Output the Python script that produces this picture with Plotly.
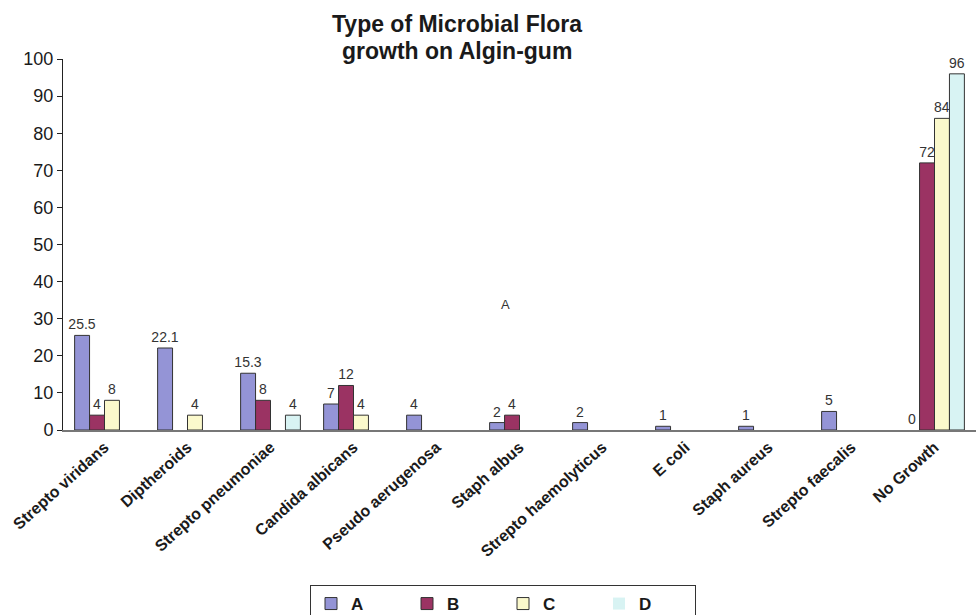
import plotly.graph_objects as go

categories = ["Strepto viridans", "Diptheroids", "Strepto pneumoniae", "Candida albicans",
              "Pseudo aerugenosa", "Staph albus", "Strepto haemolyticus", "E coli",
              "Staph aureus", "Strepto faecalis", "No Growth"]
series_names = ["A", "B", "C", "D"]
A = [25.5, 22.1, 15.3, 7, 4, 2, 2, 1, 1, 5, 0]
B = [4, 0, 8, 12, 0, 4, 0, 0, 0, 0, 72]
C = [8, 4, 0, 4, 0, 0, 0, 0, 0, 0, 84]
D = [0, 0, 4, 0, 0, 0, 0, 0, 0, 0, 96]
A_labels = ["25.5", "22.1", "15.3", "7", "4", "2", "2", "1", "1", "5", "0"]
B_labels = ["4", "", "8", "12", "", "4", "", "", "", "", "72"]
C_labels = ["8", "4", "", "4", "", "", "", "", "", "", "84"]
D_labels = ["", "", "4", "", "", "", "", "", "", "", "96"]
y_ticks = [0, 10, 20, 30, 40, 50, 60, 70, 80, 90, 100]
title_lines = ["Type of Microbial Flora", "growth on Algin-gum"]

FONT = "Liberation Sans, Arial, sans-serif"
colors = ["#9494d6", "#9b3363", "#fbf9cc", "#d8f3f3"]
values = [A, B, C, D]
labels = [A_labels, B_labels, C_labels, D_labels]

# plot area geometry (pixels)
L, R, T, Bm = 63, 3, 59, 185
W, H = 979, 615
ph = H - T - Bm
pw = W - L - R

fig = go.Figure()
for name, vals, labs, col in zip(series_names, values, labels, colors):
    fig.add_trace(go.Bar(
        name="<b>%s</b>" % name, x=categories, y=vals, text=labs,
        textposition="outside", constraintext="none", cliponaxis=False,
        textfont=dict(family=FONT, size=14, color="#333333"),
        marker=dict(color=col,
                    line=dict(color="#333333", width=[1 if v > 0 else 0 for v in vals])),
    ))

fig.add_annotation(x=(505 - L) / pw, xref="paper", y=33.7, yref="y", text="A",
                   showarrow=False, font=dict(family=FONT, size=13, color="#333333"))

for line, ypx in zip(title_lines, [24, 51]):
    fig.add_annotation(x=(457 - L) / pw, xref="paper", xanchor="center",
                       y=(H - Bm - ypx) / ph, yref="paper", yanchor="middle",
                       text="<b>%s</b>" % line, showarrow=False,
                       font=dict(family=FONT, size=23, color="#1a1a1a"))

fig.update_layout(
    width=W, height=H,
    margin=dict(l=L, r=R, t=T, b=Bm),
    paper_bgcolor="white", plot_bgcolor="white",
    barmode="group", bargap=0.28, bargroupgap=0,
    font=dict(family=FONT, color="#1a1a1a"),
    showlegend=True,
    legend=dict(orientation="h", xref="container", x=310 / W, xanchor="left",
                yref="container", y=1 - 585 / H, yanchor="top",
                bordercolor="#333333", borderwidth=1, bgcolor="white",
                entrywidth=51, entrywidthmode="pixels",
                font=dict(family=FONT, size=17, color="#1a1a1a")),
)
fig.update_xaxes(showline=True, linecolor="#777777", linewidth=1.5, ticks="",
                 tickangle=-42, showgrid=False,
                 tickfont=dict(family=FONT, size=16, color="#1a1a1a"),
                 ticktext=["<b>%s</b>" % c for c in categories], tickvals=categories)
fig.update_yaxes(range=[0, 100], tickvals=y_ticks, showline=True, linecolor="#222222", linewidth=1,
                 ticks="outside", ticklen=5, tickcolor="#222222", showgrid=False, zeroline=False,
                 tickfont=dict(family=FONT, size=18, color="#1a1a1a"))

fig.write_html("out.html", config={"displayModeBar": False},
               post_script="document.body.style.margin='0px';document.body.style.overflow='hidden';")
